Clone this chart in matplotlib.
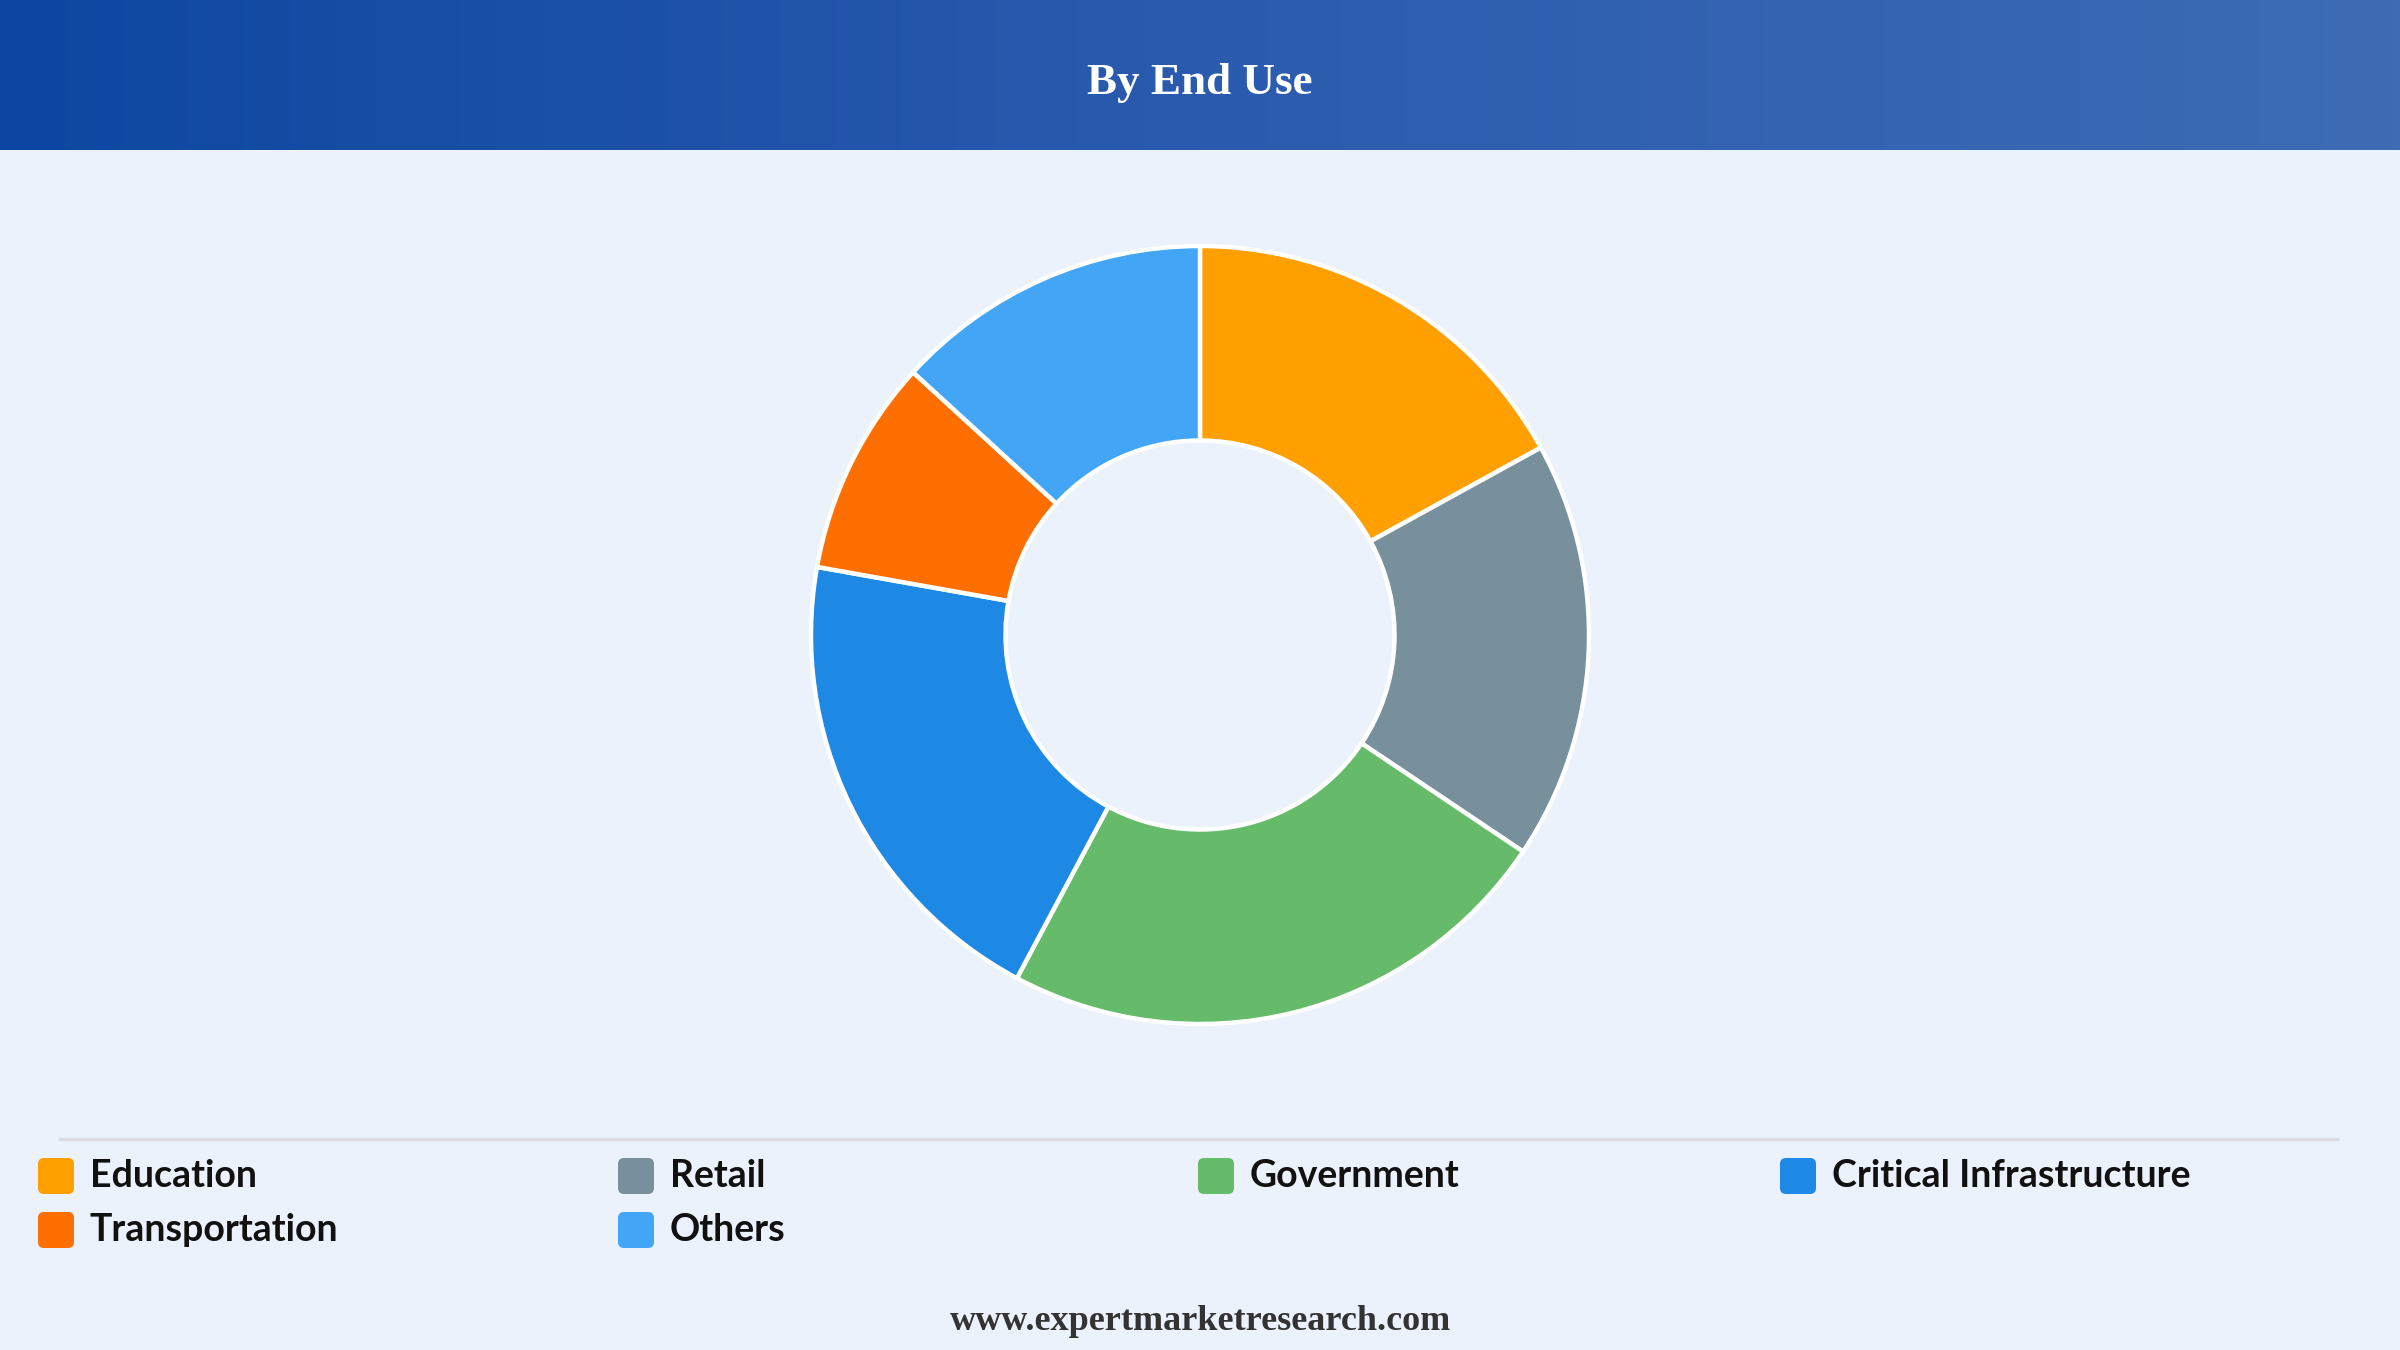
import numpy as np
import matplotlib
matplotlib.use("Agg")
import matplotlib.pyplot as plt
from matplotlib.patches import FancyBboxPatch
from matplotlib.colors import LinearSegmentedColormap

# Segment shares (clockwise from 12 o'clock)
segments = ["Education", "Retail", "Government", "Critical Infrastructure",
            "Transportation", "Others"]
shares = [17.0, 17.4, 23.4, 20.0, 9.0, 13.2]
colours = ["#FFA000", "#78909C", "#66BB6A", "#1E88E5", "#FF6F00", "#42A5F5"]

title = "By End Use"
footer = "www.expertmarketresearch.com"

W, H = 2400, 1350
figure = plt.figure(figsize=(W / 100, H / 100), dpi=100)
figure.patch.set_facecolor("#EBF2FC")

# Background axes in pixel units (y down)
bg = figure.add_axes([0, 0, 1, 1])
bg.axis("off")

# Header band with horizontal gradient
header_cmap = LinearSegmentedColormap.from_list("hdr", ["#0D47A1", "#2A5BAE", "#3D6CB5"])
gradient = np.linspace(0, 1, 512).reshape(1, -1)
bg.imshow(gradient, cmap=header_cmap, aspect="auto", extent=(0, W, 150, 0), zorder=1)
bg.set_xlim(0, W)
bg.set_ylim(H, 0)
bg.text(W / 2, 83, title, ha="center", va="center", color="white",
        fontsize=32.5, fontweight="bold", family=["Liberation Serif", "DejaVu Serif"], zorder=2)

# Donut
cx, cy, r_out = 1200, 635, 389
box = 400
pie_ax = figure.add_axes([(cx - box) / W, (H - cy - box) / H, 2 * box / W, 2 * box / H])
pie_ax.pie(shares, colors=colours, startangle=90, counterclock=False,
           wedgeprops=dict(width=0.5, edgecolor="white", linewidth=3.2))
lim = box / r_out
pie_ax.set_xlim(-lim, lim)
pie_ax.set_ylim(-lim, lim)
pie_ax.set_aspect("equal")

# Separator line above legend
bg.plot([58, 2339], [1139, 1139], color="#D9DDE3", lw=2.5, solid_capstyle="butt", zorder=2)

# Legend grid: 4 columns, 2 rows
col_x = [38, 618, 1198, 1780]
row_y = [1176, 1230]
for i, (name, colour) in enumerate(zip(segments, colours)):
    x = col_x[i % 4]
    y = row_y[i // 4]
    sw = FancyBboxPatch((x + 4, y - 14), 28, 28,
                        boxstyle="round,pad=4,rounding_size=6",
                        facecolor=colour, edgecolor="none", zorder=3)
    bg.add_patch(sw)
    bg.text(x + 52, y, name, ha="left", va="center", fontsize=27, fontweight="bold",
            color="#111111", family=["Lato", "DejaVu Sans"], zorder=3)

# Footer
bg.text(W / 2, 1321, footer, ha="center", va="center", fontsize=26, fontweight="bold",
        color="#333333", family=["Liberation Serif", "DejaVu Serif"], zorder=3)

figure.savefig("out.png", dpi=100, facecolor=figure.get_facecolor())
plt.close(figure)
